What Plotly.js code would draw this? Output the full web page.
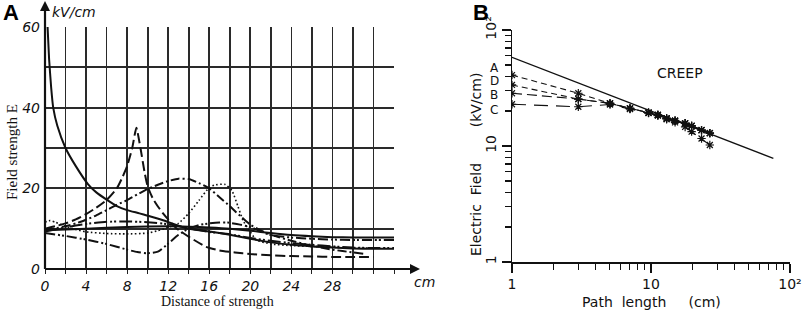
<!DOCTYPE html>
<html><head><meta charset="utf-8">
<script src="https://cdn.plot.ly/plotly-3.0.1.min.js"></script>
<style>html,body{margin:0;padding:0;background:#fff}#g{width:809px;height:313px}</style>
</head><body><div id="g"></div>
<script>
// ---- Panel A data (distance cm, field kV/cm) ----
const aSolidX = [0.25,0.4,0.6,0.8,1.2,2,3,4.2,5,6,7,8,9.2,10,11.5,13.8,16,18,20,22,24,26,28,30,32,34];
const aSolidY = [60,52,45,40,35.5,30,25.5,21,19,17.2,15.6,14.6,13.8,13.2,12.1,10.1,9.3,8.5,7.5,6.6,6,5.6,5.3,5.1,5.0,5.0];
const aPeakX = [0,1,2,3,4,5,6,7,7.5,8,8.5,8.9,9.3,9.7,10,10.5,11,11.5,12,12.8,14,15.7,17,18.5,20,22,24,26,28,30,32];
const aPeakY = [10,10.6,11.3,12.3,13.6,15.2,17.1,20,22.5,25.5,30,35,30,24,20.5,17.5,15.5,13.8,12.3,10.1,8.0,5.5,4.6,4.1,3.7,3.4,3.2,3.1,3.0,3.0,3.0];
const aBroadX = [0,1,2,3,4,5,6,7,8,9,10,11,12,13,14,15,16,17,18,19,20,21,22,24,26,28,30,31];
const aBroadY = [9.7,10.1,10.6,11.3,12.2,13.3,14.6,15.9,17.1,18.5,19.8,20.9,21.8,22.4,22.3,21.3,20.0,17.8,15.6,13.2,11.0,9.6,8.5,7,5.8,4.8,4.1,3.8];
const aDotX = [0,0.5,1,2,3,4,6,8,10,11,12,13,14,15,16,16.5,17.5,18.2,18.8,19.3,19.8,20.6,22,24,26,28,30,31.6];
const aDotY = [11.6,12,11.6,10.6,9.8,9.2,8.8,8.7,8.9,9.5,10.3,11.3,13.8,17,20.2,20.8,21,19.5,15.5,12,10,7.2,6.2,5.8,5.6,5.4,5.2,5.2];
const aLowX = [0,2,4,6,8,9,10,11,12,13,14,15,16,17,17.8,19,20,22,24,26,28,30,32,34];
const aLowY = [8.9,8.2,7.3,6.2,4.8,4.2,3.9,4.3,6.3,8.5,10,10.9,11.3,11.5,11.5,11,10.4,8.4,7.8,7.5,7.3,7.2,7.2,7.2];
const aUpX = [0,2,4,6,8,10,12,14,16,18,20,22,24,26,28,30,32,34];
const aUpY = [9.3,10.3,11.2,11.7,11.8,11.6,11.1,10.1,9.2,8.6,7.7,7.0,6.4,6.0,5.6,5.3,5.2,5.2];
const aFlatX = [0,4,8,12,14,16,18,20,22,24,26,28,30,34];
const aFlatY = [9.6,10.0,10.4,10.6,10.5,10.3,10.0,9.5,8.9,8.4,8.1,7.9,7.8,7.8];
const aXTicks = [0,2,4,6,8,10,12,14,16,18,20,22,24,26,28,30,32,34];
const aXTickText = ['0','','4','','8','','12','','16','','20','','24','','28','','',''];
const aYTicks = [0,10,20,30,40,50,60];
const aYTickText = ['0','','20','','40','','60'];

// ---- Panel B data (path length cm, field kV/cm) ----
const creepX = [1, 75.9];
const creepY = [58.2, 7.83];
const bX = [1,3,5.07,7.06,9.6,11.2,12.95,14.9,17.6,19.6,23.1,26.5];
const curveA = [40.9,28.5,23.3,21.1,19.4,18.5,17.3,16.5,15.7,14.9,13.7,12.9];
const curveD = [33.6,25.4,23.3,21.1,19.4,18.5,17.3,16.5,15.7,14.9,13.7,12.9];
const curveB = [28.5,25.4,23.3,21.1,19.4,18.5,17.3,16.5,15.7,14.9,13.7,12.9];
const curveC = [22.9,21.8,22.8,20.8,19.2,18.3,17.0,16.0,14.6,13.3,11.6,10.2];
const bMajor = [1,10,100];
const bMajorText = ['1','10','10²'];
const bMinor = [2,3,4,5,6,7,8,9,20,30,40,50,60,70,80,90];

const W = 809, H = 313;
const px = v => v / W, py = v => (H - v) / H;

function aLine(x, y, dash, w) {
  return {x, y, xaxis:'x', yaxis:'y', mode:'lines', line:{color:'#111', width:w||2, dash:dash, shape:'spline', smoothing:0.5}, hoverinfo:'skip', showlegend:false};
}
function bLine(y, dash) {
  return {x:bX, y, xaxis:'x2', yaxis:'y2', mode:'lines+markers', line:{color:'#111', width:1.1, dash:dash},
    marker:{symbol:'asterisk-open', size:7, line:{color:'#111', width:1.2}}, showlegend:false};
}

const traces = [
  aLine(aSolidX, aSolidY, 'solid', 2),
  aLine(aPeakX, aPeakY, '10px,4px'),
  aLine(aBroadX, aBroadY, '9px,3px,2px,3px'),
  aLine(aDotX, aDotY, '1.6px,2.4px', 1.6),
  aLine(aLowX, aLowY, '10px,3px,2px,2px,2px,3px'),
  aLine(aUpX, aUpY, '13px,3px,2px,2px,2px,3px'),
  aLine(aFlatX, aFlatY, 'solid', 2),
  {x:creepX, y:creepY, xaxis:'x2', yaxis:'y2', mode:'lines', line:{color:'#111', width:1.3}, showlegend:false},
  bLine(curveA, '6px,4px'),
  bLine(curveD, '6px,4px'),
  bLine(curveB, '10px,5px'),
  bLine(curveC, '14px,8px')
];

const tickA = {family:'DejaVu Sans', size:14, style:'italic', color:'#111'};
const serif = {family:'Liberation Serif', size:14, color:'#111'};
const plotter = {family:'DejaVu Sans', size:12, color:'#111'};

function txt(x, y, text, font, extra) {
  return Object.assign({xref:'paper', yref:'paper', x:px(x), y:py(y), text, showarrow:false, font,
    xanchor:'center', yanchor:'middle'}, extra || {});
}

const layout = {
  width: W, height: H, margin:{l:0,r:0,t:0,b:0},
  paper_bgcolor:'#fff', plot_bgcolor:'rgba(0,0,0,0)', showlegend:false,
  xaxis:{domain:[px(45), px(394)], range:[0,34], tickmode:'array', tickvals:aXTicks, ticktext:aXTickText,
    showgrid:true, gridcolor:'#2a2a2a', gridwidth:1.7, zeroline:false, showline:false,
    ticks:'outside', ticklen:4, tickcolor:'#222', tickfont:tickA, fixedrange:true},
  yaxis:{domain:[py(269), py(27)], range:[0,60], tickmode:'array', tickvals:aYTicks, ticktext:aYTickText,
    showgrid:true, gridcolor:'#2a2a2a', gridwidth:1.7, zeroline:false, showline:false,
    ticks:'', tickfont:tickA, ticklabelstandoff:4, fixedrange:true},
  xaxis2:{domain:[px(512), px(790)], type:'log', range:[0,2], tickmode:'array', tickvals:bMajor, ticktext:bMajorText,
    showgrid:false, zeroline:false, showline:true, linecolor:'#111', linewidth:1.5, anchor:'y2',
    ticks:'outside', ticklen:9, tickwidth:1.4, tickcolor:'#111', tickfont:{family:'DejaVu Sans', size:14, color:'#111'},
    minor:{tickvals:bMinor, ticks:'outside', ticklen:6, tickwidth:1.2, tickcolor:'#111', showgrid:false}},
  yaxis2:{domain:[py(262), py(30)], type:'log', range:[0,2], tickmode:'array', tickvals:bMajor, ticktext:bMajorText,
    showgrid:false, zeroline:false, showline:true, linecolor:'#111', linewidth:1.5, anchor:'x2',
    ticks:'outside', ticklen:9, tickwidth:1.4, tickcolor:'#111', tickangle:-90,
    tickfont:{family:'DejaVu Sans', size:14, color:'#111'},
    minor:{tickvals:bMinor, ticks:'outside', ticklen:6, tickwidth:1.2, tickcolor:'#111', showgrid:false}},
  shapes:[
    {type:'line', xref:'paper', yref:'paper', x0:px(45), x1:px(414), y0:py(269), y1:py(269), line:{color:'#111', width:2.2}},
    {type:'line', xref:'paper', yref:'paper', x0:px(45), x1:px(45), y0:py(269), y1:py(6), line:{color:'#111', width:2.2}}
  ],
  annotations:[
    {xref:'paper', yref:'paper', x:px(420), y:py(269), text:'', showarrow:true, ax:-10, ay:0, arrowhead:2, arrowsize:1, arrowwidth:2, arrowcolor:'#111'},
    {xref:'paper', yref:'paper', x:px(45), y:py(1), text:'', showarrow:true, ax:0, ay:10, arrowhead:2, arrowsize:1, arrowwidth:2, arrowcolor:'#111'},
    txt(11, 12, '<b>A</b>', {family:'Liberation Sans', size:22, color:'#000'}),
    txt(481, 12, '<b>B</b>', {family:'Liberation Sans', size:22, color:'#000'}),
    txt(50, 12, 'kV/cm', tickA, {xanchor:'left'}),
    txt(412, 282, 'cm', tickA, {xanchor:'left'}),
    txt(12, 152, 'Field strength E', {family:'Liberation Serif', size:15, color:'#111'}, {textangle:-90}),
    txt(218, 301, 'Distance of strength', serif),
    txt(680, 73, 'CREEP', {family:'DejaVu Sans', size:14, color:'#111'}),
    txt(651, 302, 'Path  length     (cm)', {family:'DejaVu Sans', size:14, color:'#111'}),
    txt(476, 165, 'Electric  Field        (kV/cm)', {family:'DejaVu Sans', size:14, color:'#111'}, {textangle:-90}),
    txt(494, 68, 'A', plotter),
    txt(494, 81, 'D', plotter),
    txt(494, 95, 'B', plotter),
    txt(494, 110, 'C', plotter)
  ]
};

Plotly.newPlot('g', traces, layout, {staticPlot:true, displayModeBar:false});
</script>
</body></html>
